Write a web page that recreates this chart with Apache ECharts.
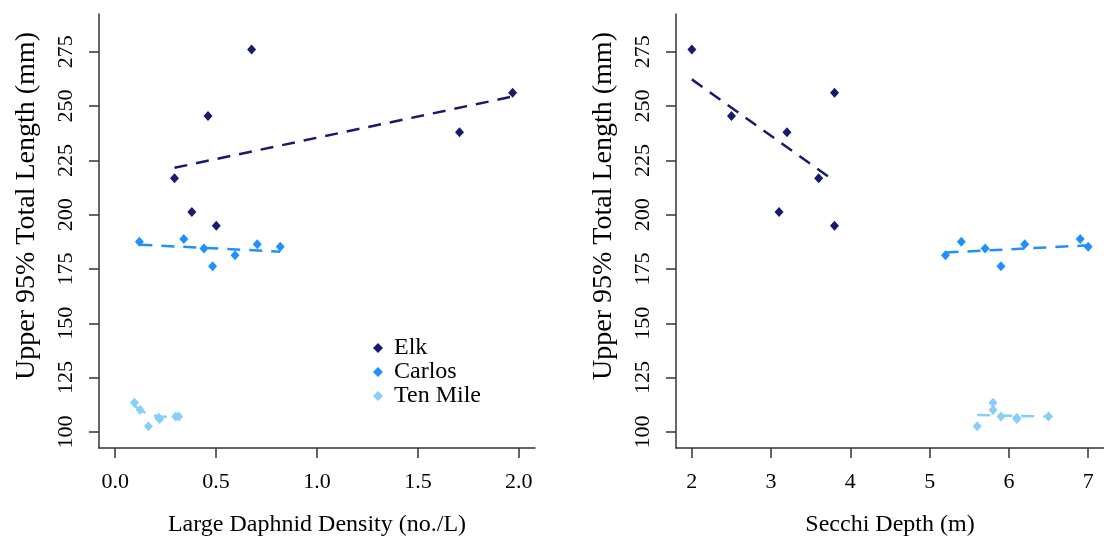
<!DOCTYPE html>
<html>
<head>
<meta charset="utf-8">
<script src="https://cdn.jsdelivr.net/npm/echarts@6/dist/echarts.min.js"></script>
<style>
html,body{margin:0;padding:0;background:#fff;}
#chart{width:1104px;height:542px;}
</style>
</head>
<body>
<div id="chart"></div>
<script>
// ---- data ----
const seriesNames = ['Elk', 'Carlos', 'Ten Mile'];

const elkLength      = [276, 245.4, 216.8, 201.2, 194.9, 238, 256.1];
const elkDensity     = [0.676, 0.46, 0.294, 0.38, 0.501, 1.706, 1.969];
const elkSecchi      = [2.0, 2.5, 3.6, 3.1, 3.8, 3.2, 3.8];

const carlosLength   = [187.5, 188.8, 184.4, 176.3, 181.3, 186.4, 185.3];
const carlosDensity  = [0.12, 0.34, 0.44, 0.483, 0.594, 0.704, 0.818];
const carlosSecchi   = [5.4, 6.9, 5.7, 5.9, 5.2, 6.2, 7.0];

const tenLength      = [113.4, 110.1, 102.6, 106.5, 107.1, 105.9, 107.1];
const tenDensity     = [0.096, 0.124, 0.165, 0.215, 0.30, 0.22, 0.315];
const tenSecchi      = [5.8, 5.8, 5.6, 6.1, 5.9, 6.1, 6.5];

// fitted lines
const elkDensityFitX    = [0.294, 1.969];
const elkDensityFitY    = [221.6, 254.4];
const carlosDensityFitX = [0.12, 0.818];
const carlosDensityFitY = [186.2, 183.0];
const tenDensityFitX    = [0.096, 0.12, 0.15, 0.19, 0.23, 0.27, 0.315];
const tenDensityFitY    = [112.0, 110.3, 108.7, 107.6, 107.1, 107.0, 107.1];

const elkSecchiFitX     = [2.0, 3.8];
const elkSecchiFitY     = [262.3, 215.5];
const carlosSecchiFitX  = [5.2, 7.0];
const carlosSecchiFitY  = [182.6, 185.9];
const tenSecchiFitX     = [5.6, 6.5];
const tenSecchiFitY     = [107.8, 107.1];

const yTicks        = [100, 125, 150, 175, 200, 225, 250, 275];
const densityTicks  = [0, 0.5, 1.0, 1.5, 2.0];
const secchiTicks   = [2, 3, 4, 5, 6, 7];

const yTitle = 'Upper 95% Total Length (mm)';
const xTitleLeft = 'Large Daphnid Density (no./L)';
const xTitleRight = 'Secchi Depth (m)';

// ---- styles ----
const colors = {'Elk': '#191970', 'Carlos': '#1E90FF', 'Ten Mile': '#87CEFA'};
const FONT = '"Liberation Serif", "Times New Roman", serif';
const AXIS_COLOR = '#333';
const TEXT_COLOR = '#000';

function zip(xs, ys){ return xs.map((x, i) => [x, ys[i]]); }

function scatter(name, xs, ys, idx){
  return {
    type: 'scatter', name: name, xAxisIndex: idx, yAxisIndex: idx,
    data: zip(xs, ys), symbol: 'diamond', symbolSize: [9, 10],
    itemStyle: {color: colors[name], opacity: 1}, z: 3
  };
}
function fit(name, xs, ys, idx){
  return {
    type: 'line', name: name + ' fit', xAxisIndex: idx, yAxisIndex: idx,
    data: zip(xs, ys), showSymbol: false, symbol: 'none', smooth: false,
    lineStyle: {color: colors[name], width: 2.5, type: [13, 9]}, z: 2,
    silent: true
  };
}

function xAxis(idx, min, max, ticks, fmt, title){
  return {
    type: 'value', gridIndex: idx, min: min, max: max,
    splitLine: {show: false},
    axisLine: {show: true, onZero: false, lineStyle: {color: AXIS_COLOR, width: 1.5}},
    axisTick: {show: true, length: 10, customValues: ticks, lineStyle: {color: AXIS_COLOR, width: 1.5}},
    axisLabel: {customValues: ticks, formatter: fmt, margin: 23, fontFamily: FONT, fontSize: 22, color: TEXT_COLOR},
    name: title, nameLocation: 'middle', nameGap: 65,
    nameTextStyle: {fontFamily: FONT, fontSize: 24, color: TEXT_COLOR}
  };
}
function yAxis(idx){
  return {
    type: 'value', gridIndex: idx, min: 92.6, max: 292.4,
    splitLine: {show: false},
    axisLine: {show: true, onZero: false, lineStyle: {color: AXIS_COLOR, width: 1.5}},
    axisTick: {show: true, length: 10, customValues: yTicks, lineStyle: {color: AXIS_COLOR, width: 1.5}},
    axisLabel: {customValues: yTicks, rotate: 90, margin: 22, fontFamily: FONT, fontSize: 22, color: TEXT_COLOR},
    name: yTitle, nameLocation: 'middle', nameGap: 58, nameRotate: 90,
    nameTextStyle: {fontFamily: FONT, fontSize: 28, color: TEXT_COLOR, padding: [0, 0, 0, 50]}
  };
}

const chart = echarts.init(document.getElementById('chart'), null, {renderer: 'canvas'});
chart.setOption({
  animation: false,
  backgroundColor: '#fff',
  grid: [
    {left: 99, top: 14, width: 436, height: 436, containLabel: false},
    {left: 676, top: 14, width: 434, height: 436, containLabel: false}
  ],
  xAxis: [
    xAxis(0, -0.08, 2.08, densityTicks, v => v.toFixed(1), xTitleLeft),
    xAxis(1, 1.8, 7.2, secchiTicks, v => String(v), xTitleRight)
  ],
  yAxis: [yAxis(0), yAxis(1)],
  legend: {
    show: true, orient: 'vertical', left: 368, top: 331,
    data: seriesNames, icon: 'diamond', itemWidth: 10, itemHeight: 10,
    itemGap: 0,
    itemStyle: {opacity: 1},
    textStyle: {fontFamily: FONT, fontSize: 24, color: TEXT_COLOR, lineHeight: 22, padding: [0, 0, 0, 6]}
  },
  series: [
    fit('Elk', elkDensityFitX, elkDensityFitY, 0),
    fit('Carlos', carlosDensityFitX, carlosDensityFitY, 0),
    fit('Ten Mile', tenDensityFitX, tenDensityFitY, 0),
    scatter('Elk', elkDensity, elkLength, 0),
    scatter('Carlos', carlosDensity, carlosLength, 0),
    scatter('Ten Mile', tenDensity, tenLength, 0),
    fit('Elk', elkSecchiFitX, elkSecchiFitY, 1),
    fit('Carlos', carlosSecchiFitX, carlosSecchiFitY, 1),
    fit('Ten Mile', tenSecchiFitX, tenSecchiFitY, 1),
    scatter('Elk', elkSecchi, elkLength, 1),
    scatter('Carlos', carlosSecchi, carlosLength, 1),
    scatter('Ten Mile', tenSecchi, tenLength, 1)
  ]
});
</script>
</body>
</html>
